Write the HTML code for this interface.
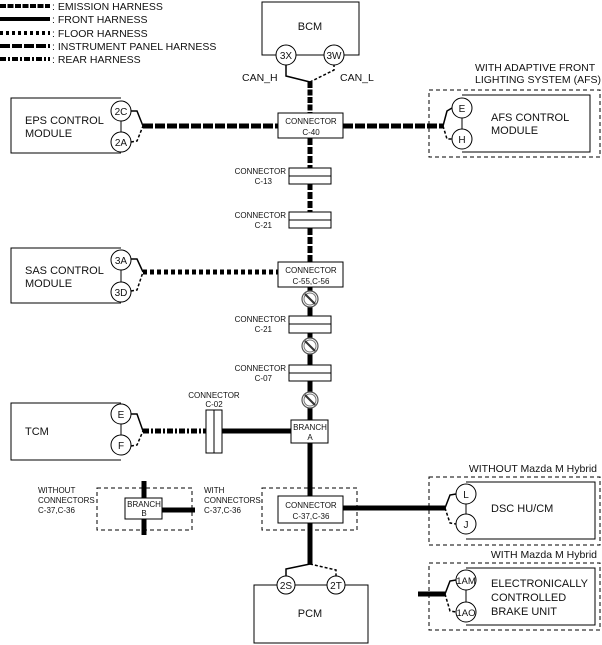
<!DOCTYPE html>
<html><head><meta charset="utf-8"><style>
body{margin:0;background:#fff}
svg{display:block}
text{font-family:"Liberation Sans",sans-serif;fill:#111}
</style></head><body>
<svg width="602" height="645" viewBox="0 0 602 645" xmlns="http://www.w3.org/2000/svg">
<defs>
<g id="ns"><circle r="8" fill="#fff" stroke="#555" stroke-width="1.2"/><circle r="6" fill="none" stroke="#777" stroke-width="1"/><line x1="-5" y1="-5" x2="5" y2="5" stroke="#333" stroke-width="2"/></g>
</defs>
<g stroke="#000" stroke-width="4" fill="none">
<line x1="0" y1="6" x2="50" y2="6" stroke-dasharray="6,1.5"/>
<line x1="0" y1="19" x2="50" y2="19"/>
<line x1="0" y1="33" x2="50" y2="33" stroke-dasharray="3,3"/>
<line x1="0" y1="46" x2="50" y2="46" stroke-dasharray="10,2"/>
<line x1="0" y1="59" x2="50" y2="59" stroke-dasharray="6,2,2,2"/>
</g>
<g font-size="10.5">
<text x="52" y="10">: EMISSION HARNESS</text>
<text x="52" y="23">: FRONT HARNESS</text>
<text x="52" y="37">: FLOOR HARNESS</text>
<text x="52" y="50">: INSTRUMENT PANEL HARNESS</text>
<text x="52" y="63">: REAR HARNESS</text>
</g>

<!-- BCM -->
<rect x="262" y="2" width="97" height="53" fill="none" stroke="#000"/>
<text x="310" y="30" font-size="11" text-anchor="middle">BCM</text>
<g fill="none" stroke="#000" stroke-width="1.5">
<polyline points="286,64 286,76 310,82"/>
<polyline points="334,64 334,70 310,82" stroke-dasharray="3,2"/>
</g>
<circle cx="286" cy="55" r="10" fill="#fff" stroke="#000"/><text x="286" y="59" font-size="10" text-anchor="middle">3X</text>
<circle cx="334" cy="55" r="10" fill="#fff" stroke="#000"/><text x="334" y="59" font-size="10" text-anchor="middle">3W</text>
<text x="242" y="81" font-size="10.5">CAN_H</text>
<text x="340" y="81" font-size="10.5">CAN_L</text>

<!-- main vertical -->
<g stroke="#000" stroke-width="5" fill="none">
<line x1="310" y1="82" x2="310" y2="113" stroke-dasharray="6,1.5"/>
<line x1="310" y1="138" x2="310" y2="262" stroke-dasharray="7,2"/>
<line x1="310" y1="287" x2="310" y2="420"/>
<line x1="310" y1="443" x2="310" y2="496"/>
<line x1="310" y1="523" x2="310" y2="564"/>
<line x1="143" y1="126" x2="278" y2="126" stroke-dasharray="10,2"/>
<line x1="343" y1="126" x2="443" y2="126" stroke-dasharray="10,2"/>
<line x1="143" y1="272" x2="278" y2="272" stroke-dasharray="4,3"/>
<line x1="143" y1="431" x2="206" y2="431" stroke-dasharray="6,2,2,2"/>
<line x1="222" y1="431" x2="291" y2="431"/>
<line x1="343" y1="508" x2="445" y2="508"/>
<line x1="418" y1="594" x2="445" y2="594"/>
<line x1="144" y1="481" x2="144" y2="535"/>
<line x1="162" y1="510" x2="195" y2="510"/>
</g>

<!-- connector boxes -->
<g fill="#fff" stroke="#000">
<rect x="278" y="113" width="65" height="25"/>
<rect x="289" y="168" width="42" height="16"/><line x1="289" y1="176" x2="331" y2="176"/>
<rect x="289" y="212" width="42" height="16"/><line x1="289" y1="220" x2="331" y2="220"/>
<rect x="278" y="262" width="65" height="25"/>
<rect x="289" y="316" width="42" height="17"/><line x1="289" y1="324" x2="331" y2="324"/>
<rect x="289" y="365" width="42" height="16"/><line x1="289" y1="373" x2="331" y2="373"/>
<rect x="291" y="420" width="37" height="23"/>
<rect x="206" y="410" width="16" height="43"/><line x1="214" y1="410" x2="214" y2="453"/>
<rect x="278" y="496" width="65" height="27"/>
<rect x="125" y="498" width="37" height="21"/>
</g>
<g font-size="8" text-anchor="middle">
<text x="311" y="124">CONNECTOR</text><text x="311" y="135">C-40</text>
<text x="311" y="273">CONNECTOR</text><text x="311" y="284">C-55,C-56</text>
<text x="310" y="430">BRANCH</text><text x="310" y="440">A</text>
<text x="311" y="508">CONNECTOR</text><text x="311" y="519">C-37,C-36</text>
<text x="144" y="507">BRANCH</text><text x="144" y="516">B</text>
<text x="214" y="398">CONNECTOR</text><text x="214" y="407">C-02</text>
</g>
<g font-size="8" text-anchor="end">
<text x="286" y="174">CONNECTOR</text><text x="272" y="184">C-13</text>
<text x="286" y="218">CONNECTOR</text><text x="272" y="228">C-21</text>
<text x="286" y="322">CONNECTOR</text><text x="272" y="332">C-21</text>
<text x="286" y="371">CONNECTOR</text><text x="272" y="381">C-07</text>
</g>
<use href="#ns" x="310" y="299"/>
<use href="#ns" x="310" y="346"/>
<use href="#ns" x="310" y="400"/>

<!-- left modules -->
<g fill="none" stroke="#000">
<polyline points="121,98 11,98 11,153 121,153"/>
<polyline points="121,248 11,248 11,303 121,303"/>
<polyline points="121,403 11,403 11,460 121,460"/>
<line x1="121" y1="111" x2="121" y2="142"/>
<line x1="121" y1="260" x2="121" y2="292"/>
<line x1="121" y1="414" x2="121" y2="445"/>
</g>
<g fill="none" stroke="#000" stroke-width="1.5">
<polyline points="131,111 137,111 143,126"/><polyline points="131,142 137,141 143,126" stroke-dasharray="3,2"/>
<polyline points="131,259 137,259 143,272"/><polyline points="131,291 137,290 143,272" stroke-dasharray="3,2"/>
<polyline points="131,414 137,414 143,431"/><polyline points="131,446 137,445 143,431" stroke-dasharray="3,2"/>
</g>
<g fill="#fff" stroke="#000">
<circle cx="121" cy="111" r="10"/><circle cx="121" cy="142" r="10"/>
<circle cx="121" cy="260" r="10"/><circle cx="121" cy="292" r="10"/>
<circle cx="121" cy="414" r="10"/><circle cx="121" cy="445" r="10"/>
</g>
<g font-size="10" text-anchor="middle">
<text x="121" y="115">2C</text><text x="121" y="146">2A</text>
<text x="121" y="264">3A</text><text x="121" y="296">3D</text>
<text x="121" y="418">E</text><text x="121" y="449">F</text>
</g>
<g font-size="11">
<text x="25" y="124">EPS CONTROL</text><text x="25" y="137">MODULE</text>
<text x="25" y="274">SAS CONTROL</text><text x="25" y="287">MODULE</text>
<text x="25" y="435">TCM</text>
</g>

<!-- dashed boxes -->
<g fill="none" stroke="#000" stroke-dasharray="4,3">
<rect x="429" y="90" width="171" height="67"/>
<rect x="429" y="477" width="171" height="68"/>
<rect x="429" y="563" width="171" height="67"/>
<rect x="262" y="488" width="95" height="42"/>
<rect x="97" y="488" width="95" height="42"/>
</g>

<!-- right modules -->
<g fill="none" stroke="#000">
<polyline points="462,95 590,95 590,152 462,152"/>
<line x1="462" y1="108" x2="462" y2="139"/>
<polyline points="466,482 595,482 595,539 466,539"/>
<line x1="466" y1="494" x2="466" y2="524"/>
<polyline points="466,568 595,568 595,625 466,625"/>
<line x1="466" y1="580" x2="466" y2="612"/>
</g>
<g fill="none" stroke="#000" stroke-width="1.5">
<polyline points="443,126 447,111 452,108"/><polyline points="443,126 447,139 452,139" stroke-dasharray="3,2"/>
<polyline points="445,508 450,495 456,494"/><polyline points="445,508 450,523 456,524" stroke-dasharray="3,2"/>
<polyline points="445,594 450,581 456,580"/><polyline points="445,594 450,611 456,612" stroke-dasharray="3,2"/>
</g>
<g fill="#fff" stroke="#000">
<circle cx="462" cy="108" r="10"/><circle cx="462" cy="139" r="10"/>
<circle cx="466" cy="494" r="10"/><circle cx="466" cy="524" r="10"/>
<circle cx="466" cy="580" r="10"/><circle cx="466" cy="612" r="10"/>
</g>
<g font-size="10" text-anchor="middle">
<text x="462" y="112">E</text><text x="462" y="143">H</text>
<text x="466" y="498">L</text><text x="466" y="528">J</text>
<text x="466" y="584" font-size="9.5">1AM</text><text x="466" y="616" font-size="9.5">1AO</text>
</g>
<g font-size="11">
<text x="491" y="121">AFS CONTROL</text><text x="491" y="134">MODULE</text>
<text x="491" y="512">DSC HU/CM</text>
<text x="491" y="587">ELECTRONICALLY</text><text x="491" y="601">CONTROLLED</text><text x="491" y="615">BRAKE UNIT</text>
<text x="475" y="71" font-size="10.5">WITH ADAPTIVE FRONT</text>
<text x="475" y="83" font-size="10.5">LIGHTING SYSTEM (AFS)</text>
<text x="597" y="472" font-size="10.5" text-anchor="end">WITHOUT Mazda M Hybrid</text>
<text x="597" y="558" font-size="10.5" text-anchor="end">WITH Mazda M Hybrid</text>
</g>
<g font-size="8">
<text x="38" y="493">WITHOUT</text><text x="38" y="503">CONNECTORS</text><text x="38" y="513">C-37,C-36</text>
<text x="204" y="493">WITH</text><text x="204" y="503">CONNECTORS</text><text x="204" y="513">C-37,C-36</text>
</g>

<!-- PCM -->
<g fill="none" stroke="#000" stroke-width="1.5">
<polyline points="310,564 286,569 286,576"/>
<polyline points="310,564 336,570 336,576" stroke-dasharray="3,2"/>
</g>
<rect x="254" y="585" width="114" height="58" fill="none" stroke="#000"/>
<circle cx="286" cy="585" r="9" fill="#fff" stroke="#000"/><text x="286" y="589" font-size="10" text-anchor="middle">2S</text>
<circle cx="336" cy="585" r="9" fill="#fff" stroke="#000"/><text x="336" y="589" font-size="10" text-anchor="middle">2T</text>
<text x="310" y="617" font-size="11" text-anchor="middle">PCM</text>
</svg>
</body></html>
